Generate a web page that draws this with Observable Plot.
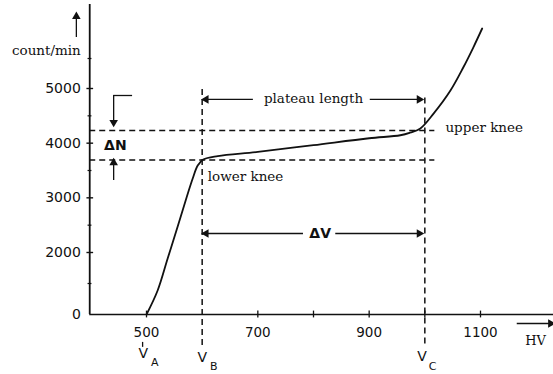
<!DOCTYPE html>
<html><head><meta charset="utf-8">
<script src="https://cdn.jsdelivr.net/npm/d3@7"></script>
<script src="https://cdn.jsdelivr.net/npm/@observablehq/plot@0.6"></script>
<style>body{margin:0;background:#fff} svg{display:block;background:#fff}</style>
</head><body><div id="chart"></div>
<script>
// Counter plateau curve (HV in volts, count/min)
const curveHV    = [500, 520, 538, 556, 572, 583, 592, 602, 628, 700, 800, 900, 956, 974, 992, 1016, 1046, 1069, 1087, 1103];
const curveCount = [0, 774, 1806, 2476, 3006, 3353, 3591, 3701, 3765, 3840, 3964, 4090, 4145, 4195, 4270, 4545, 4963, 5350, 5683, 6000];

const yTickValues = [0, 2000, 3000, 4000, 5000];
const yTickLabels = ["0", "2000", "3000", "4000", "5000"];
const yMajorTicks = [2000, 3000, 4000, 5000];
const yMinorTicks = [1000, 2500, 3500, 4500, 5500];
const xTickMarks  = [500, 700, 800, 900, 1000, 1100];
const xTickLabels = [500, 700, 900, 1100];

const vA = 500, vB = 600, vC = 1000;
const lowerKnee = 3690, upperKnee = 4230;
const plateauArrowCount = 4800, deltaVCount = 2348;
const axisLeftHV = 398, axisRightHV = 1232, axisTopCount = 6400;

const curve = curveHV.map((v, i) => ({hv: v, n: curveCount[i]}));

// annotation texts (data coordinates)
const endLabels    = [{hv: 382, n: 5633, t: "count/min"}];
const middleLabels = [{hv: 800, n: 4817, t: "plateau length"}];
const startLabels  = [{hv: 610, n: 3390, t: "lower knee"}, {hv: 1037, n: 4290, t: "upper knee"}];
const deltaLabels = [
  {hv: 444, n: 3957, t: "ΔN"},
  {hv: 812, n: 2348, t: "ΔV"}
];
const vLetters = [
  {hv: 494, n: -1258, t: "V"}, {hv: 600, n: -1387, t: "V"}, {hv: 995, n: -1355, t: "V"}
];
const vSubs = [
  {hv: 515, n: -1540, t: "A"}, {hv: 621, n: -1670, t: "B"}, {hv: 1014, n: -1670, t: "C"}
];

// segments of arrows / brackets
const hSegments = [
  {n: plateauArrowCount, x1: 603, x2: 692},
  {n: plateauArrowCount, x1: 902, x2: 994},
  {n: deltaVCount, x1: 603, x2: 782},
  {n: deltaVCount, x1: 840, x2: 994},
  {n: 4872, x1: 441, x2: 475},
  {n: -290, x1: 1166, x2: 1226}
];
const vSegments = [
  {hv: 441, y1: 4872, y2: 4415},
  {hv: 441, y1: 3317, y2: 3628},
  {hv: 374, y1: 5850, y2: 6200},
  {hv: 493, y1: -900, y2: -1060}
];
const heads = [
  {hv: 607, n: plateauArrowCount, r: -90},
  {hv: 990, n: plateauArrowCount, r: 90},
  {hv: 607, n: deltaVCount, r: -90},
  {hv: 990, n: deltaVCount, r: 90},
  {hv: 441, n: 4380, r: 180},
  {hv: 441, n: 3640, r: 0},
  {hv: 374, n: 6200, r: 0},
  {hv: 1226, n: -290, r: 90}
];

const ink = "#111";
const chart = Plot.plot({
  width: 553, height: 374,
  x: {type: "linear", domain: [500, 1100], range: [146, 480], axis: null},
  y: {type: "linear", domain: [0, 2000, 5000, 6300], range: [314, 252, 88, 10], axis: null},
  marks: [
    // axes
    Plot.ruleY([0], {x1: axisLeftHV, x2: axisRightHV, stroke: ink, strokeWidth: 1.6}),
    Plot.ruleX([axisLeftHV], {y1: 0, y2: axisTopCount, stroke: ink, strokeWidth: 1.8}),
    Plot.ruleY(yMajorTicks, {x1: axisLeftHV - 5, x2: axisLeftHV + 7, stroke: ink, strokeWidth: 1.4}),
    Plot.ruleY(yMinorTicks, {x1: axisLeftHV - 3, x2: axisLeftHV + 4, stroke: ink, strokeWidth: 1.2}),
    Plot.ruleX(xTickMarks, {y1: -110, y2: 110, stroke: ink, strokeWidth: 1.3}),
    Plot.text(yTickValues, {x: axisLeftHV - 16, y: d => d, text: (d, i) => yTickLabels[i], textAnchor: "end",
      fontFamily: "DejaVu Sans", fontSize: 14, fill: ink}),
    Plot.text(xTickLabels, {x: d => d, y: -580, text: d => String(d), fontFamily: "DejaVu Sans", fontSize: 13.5, fill: ink}),
    // dashed reference lines
    Plot.ruleY([upperKnee, lowerKnee], {x1: axisLeftHV, x2: 1018, stroke: ink, strokeWidth: 1.5, strokeDasharray: "6,4"}),
    Plot.ruleX([vB], {y1: -1000, y2: 5000, stroke: ink, strokeWidth: 1.5, strokeDasharray: "6,4"}),
    Plot.ruleX([vC], {y1: -950, y2: 4870, stroke: ink, strokeWidth: 1.5, strokeDasharray: "6,4"}),
    // arrows
    Plot.ruleY(hSegments, {y: "n", x1: "x1", x2: "x2", stroke: ink, strokeWidth: 1.3}),
    Plot.ruleX(vSegments, {x: "hv", y1: "y1", y2: "y2", stroke: ink, strokeWidth: 1.3}),
    Plot.dot(heads, {x: "hv", y: "n", rotate: "r", symbol: "triangle", r: 3.2, fill: ink, stroke: "none"}),
    // curve
    Plot.line(curve, {x: "hv", y: "n", curve: "catmull-rom", stroke: ink, strokeWidth: 1.8}),
    // labels
    Plot.text(endLabels, {x: "hv", y: "n", text: "t", textAnchor: "end", fontFamily: "DejaVu Serif", fontSize: 13.5, fill: ink}),
    Plot.text(middleLabels, {x: "hv", y: "n", text: "t", textAnchor: "middle", fontFamily: "DejaVu Serif", fontSize: 13.5, fill: ink}),
    Plot.text(startLabels, {x: "hv", y: "n", text: "t", textAnchor: "start", fontFamily: "DejaVu Serif", fontSize: 13.5, fill: ink}),
    Plot.text(deltaLabels, {x: "hv", y: "n", text: "t", fontFamily: "DejaVu Sans", fontWeight: "bold", fontSize: 14, fill: ink}),
    Plot.text(vLetters, {x: "hv", y: "n", text: "t", fontFamily: "DejaVu Sans", fontSize: 14, fill: ink}),
    Plot.text(vSubs, {x: "hv", y: "n", text: "t", fontFamily: "DejaVu Sans", fontSize: 11, fill: ink}),
    Plot.text([{hv: 1199, n: -839, t: "HV"}], {x: "hv", y: "n", text: "t", fontFamily: "DejaVu Serif", fontSize: 13, fill: ink})
  ]
});
document.getElementById("chart").append(chart);
</script>
</body></html>
